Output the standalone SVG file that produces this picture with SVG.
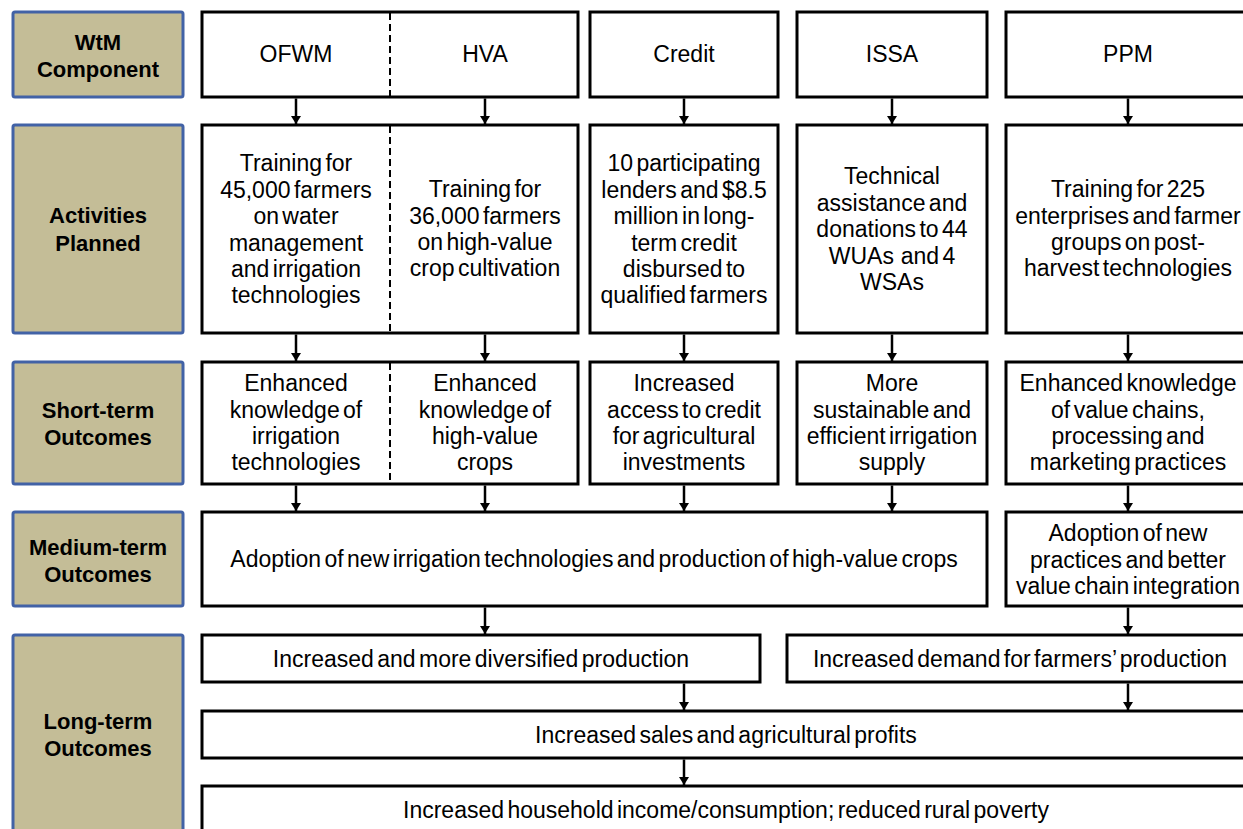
<svg xmlns="http://www.w3.org/2000/svg" width="1243" height="829" viewBox="0 0 1243 829">
<defs>
<style>
.lbl{fill:#c4bd97;stroke:#4262a6;stroke-width:3}
.box{fill:#fff;stroke:#000;stroke-width:3}
.dash{stroke:#000;stroke-width:2;stroke-dasharray:7 4;fill:none}
.t{font-family:"Liberation Sans",Arial,sans-serif;font-size:23px;word-spacing:-3px;text-anchor:middle;fill:#000}
.b{font-family:"Liberation Sans",Arial,sans-serif;font-size:22px;font-weight:bold;text-anchor:middle;fill:#000}
.c{stroke:#000;stroke-width:2.5;fill:none;marker-end:url(#ah)}
</style>
<marker id="ah" viewBox="0 0 8 10" refX="8" refY="5" markerWidth="8" markerHeight="10" markerUnits="userSpaceOnUse" orient="auto">
<path d="M0,0 L8,5 L0,10 z" fill="#000"/>
</marker>
</defs>
<rect width="1243" height="829" fill="#fff"/>

<g id="label-wtm"><rect class="lbl" x="13" y="12" width="170" height="85" rx="2"/><text class="b" x="98" y="50">WtM</text><text class="b" x="98" y="77">Component</text></g>
<g id="label-activities"><rect class="lbl" x="13" y="125" width="170" height="208" rx="2"/><text class="b" x="98" y="223">Activities</text><text class="b" x="98" y="251">Planned</text></g>
<g id="label-short"><rect class="lbl" x="13" y="362" width="170" height="122" rx="2"/><text class="b" x="98" y="418">Short-term</text><text class="b" x="98" y="445">Outcomes</text></g>
<g id="label-medium"><rect class="lbl" x="13" y="512" width="170" height="94" rx="2"/><text class="b" x="98" y="555">Medium-term</text><text class="b" x="98" y="582">Outcomes</text></g>
<g id="label-long"><rect class="lbl" x="13" y="635" width="170" height="210" rx="2"/><text class="b" x="98" y="729">Long-term</text><text class="b" x="98" y="756">Outcomes</text></g>

<g id="comp-ofwm-hva"><rect class="box" x="202" y="12" width="376" height="85"/><line class="dash" x1="390" y1="13" x2="390" y2="96"/><text class="t" x="296" y="62">OFWM</text><text class="t" x="485" y="62">HVA</text></g>
<g id="comp-credit"><rect class="box" x="590" y="12" width="188" height="85"/><text class="t" x="684" y="62">Credit</text></g>
<g id="comp-issa"><rect class="box" x="797" y="12" width="190" height="85"/><text class="t" x="892" y="62">ISSA</text></g>
<g id="comp-ppm"><rect class="box" x="1006" y="12" width="250" height="85"/><text class="t" x="1128" y="62">PPM</text></g>

<g id="act-ofwm-hva"><rect class="box" x="202" y="125" width="376" height="208"/><line class="dash" x1="390" y1="126" x2="390" y2="332"/>
<text class="t" x="296" y="171">Training for</text><text class="t" x="296" y="198">45,000 farmers</text><text class="t" x="296" y="224">on water</text><text class="t" x="296" y="251">management</text><text class="t" x="296" y="277">and irrigation</text><text class="t" x="296" y="303">technologies</text>
<text class="t" x="485" y="197">Training for</text><text class="t" x="485" y="224">36,000 farmers</text><text class="t" x="485" y="250">on high-value</text><text class="t" x="485" y="276">crop cultivation</text></g>
<g id="act-credit"><rect class="box" x="590" y="125" width="188" height="208"/>
<text class="t" x="684" y="171">10 participating</text><text class="t" x="684" y="198">lenders and $8.5</text><text class="t" x="684" y="224">million in long-</text><text class="t" x="684" y="251">term credit</text><text class="t" x="684" y="277">disbursed to</text><text class="t" x="684" y="303">qualified farmers</text></g>
<g id="act-issa"><rect class="box" x="797" y="125" width="190" height="208"/>
<text class="t" x="892" y="184">Technical</text><text class="t" x="892" y="211">assistance and</text><text class="t" x="892" y="237">donations to 44</text><text class="t" x="892" y="264" xml:space="preserve">WUAs  and 4</text><text class="t" x="892" y="290">WSAs</text></g>
<g id="act-ppm"><rect class="box" x="1006" y="125" width="250" height="208"/>
<text class="t" x="1128" y="197">Training for 225</text><text class="t" x="1128" y="224">enterprises and farmer</text><text class="t" x="1128" y="250">groups on post-</text><text class="t" x="1128" y="276">harvest technologies</text></g>

<g id="st-ofwm-hva"><rect class="box" x="202" y="362" width="376" height="122"/><line class="dash" x1="390" y1="363" x2="390" y2="483"/>
<text class="t" x="296" y="391">Enhanced</text><text class="t" x="296" y="418">knowledge of</text><text class="t" x="296" y="444">irrigation</text><text class="t" x="296" y="470">technologies</text>
<text class="t" x="485" y="391">Enhanced</text><text class="t" x="485" y="418">knowledge of</text><text class="t" x="485" y="444">high-value</text><text class="t" x="485" y="470">crops</text></g>
<g id="st-credit"><rect class="box" x="590" y="362" width="188" height="122"/>
<text class="t" x="684" y="391">Increased</text><text class="t" x="684" y="418">access to credit</text><text class="t" x="684" y="444">for agricultural</text><text class="t" x="684" y="470">investments</text></g>
<g id="st-issa"><rect class="box" x="797" y="362" width="190" height="122"/>
<text class="t" x="892" y="391">More</text><text class="t" x="892" y="418">sustainable and</text><text class="t" x="892" y="444">efficient irrigation</text><text class="t" x="892" y="470">supply</text></g>
<g id="st-ppm"><rect class="box" x="1006" y="362" width="250" height="122"/>
<text class="t" x="1128" y="391">Enhanced knowledge</text><text class="t" x="1128" y="418">of value chains,</text><text class="t" x="1128" y="444">processing and</text><text class="t" x="1128" y="470">marketing practices</text></g>

<g id="mt-main"><rect class="box" x="202" y="512" width="785" height="94"/><text class="t" x="594" y="567">Adoption of new irrigation technologies and production of high-value crops</text></g>
<g id="mt-ppm"><rect class="box" x="1006" y="512" width="250" height="94"/>
<text class="t" x="1128" y="541">Adoption of new</text><text class="t" x="1128" y="568">practices and better</text><text class="t" x="1128" y="594">value chain integration</text></g>

<g id="lt-production"><rect class="box" x="202" y="635" width="558" height="47"/><text class="t" x="481" y="667">Increased and more diversified production</text></g>
<g id="lt-demand"><rect class="box" x="787" y="635" width="470" height="47"/><text class="t" x="1020" y="667">Increased demand for farmers’ production</text></g>
<g id="lt-sales"><rect class="box" x="202" y="711" width="1055" height="47"/><text class="t" x="726" y="743">Increased sales and agricultural profits</text></g>
<g id="lt-income"><rect class="box" x="202" y="786" width="1055" height="60"/><text class="t" x="726" y="818">Increased household income/consumption; reduced rural poverty</text></g>

<g id="connectors">
<line class="c" x1="296" y1="98.5" x2="296" y2="124"/>
<line class="c" x1="485" y1="98.5" x2="485" y2="124"/>
<line class="c" x1="684" y1="98.5" x2="684" y2="124"/>
<line class="c" x1="892" y1="98.5" x2="892" y2="124"/>
<line class="c" x1="1128" y1="98.5" x2="1128" y2="124"/>
<line class="c" x1="296" y1="334.5" x2="296" y2="361"/>
<line class="c" x1="485" y1="334.5" x2="485" y2="361"/>
<line class="c" x1="684" y1="334.5" x2="684" y2="361"/>
<line class="c" x1="892" y1="334.5" x2="892" y2="361"/>
<line class="c" x1="1128" y1="334.5" x2="1128" y2="361"/>
<line class="c" x1="296" y1="485.5" x2="296" y2="511"/>
<line class="c" x1="485" y1="485.5" x2="485" y2="511"/>
<line class="c" x1="684" y1="485.5" x2="684" y2="511"/>
<line class="c" x1="892" y1="485.5" x2="892" y2="511"/>
<line class="c" x1="1128" y1="485.5" x2="1128" y2="511"/>
<line class="c" x1="485" y1="607.5" x2="485" y2="634"/>
<line class="c" x1="1128" y1="607.5" x2="1128" y2="634"/>
<line class="c" x1="684" y1="683.5" x2="684" y2="710"/>
<line class="c" x1="1128" y1="683.5" x2="1128" y2="710"/>
<line class="c" x1="684" y1="759.5" x2="684" y2="785"/>
</g>
</svg>
